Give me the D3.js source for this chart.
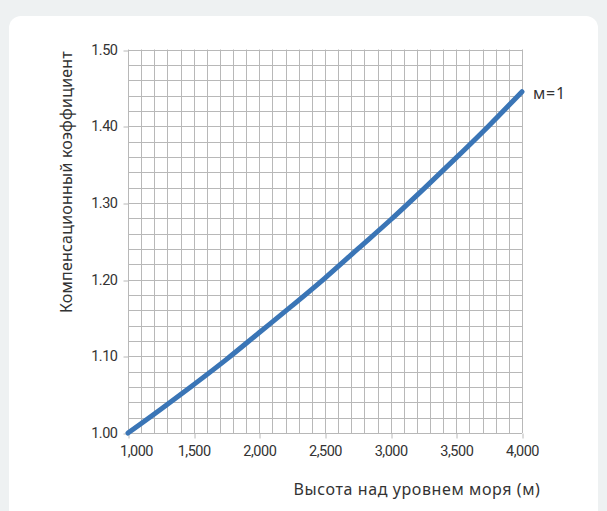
<!DOCTYPE html>
<html><head><meta charset="utf-8">
<script src="https://cdn.jsdelivr.net/npm/d3@7"></script>
<style>
html,body{margin:0;padding:0;background:#eef1f2;}
svg{display:block;}
</style></head>
<body>
<svg id="c" width="607" height="511"></svg>
<script>
const altitudes = [1000,1250,1500,1750,2000,2250,2500,2750,3000,3250,3500,3750,4000];
const factors = [1.000,1.031,1.063,1.096,1.131,1.166,1.202,1.240,1.278,1.318,1.359,1.401,1.445];
const xTicks = [1000,1500,2000,2500,3000,3500,4000];
const xTickLabels = ["1,000","1,500","2,000","2,500","3,000","3,500","4,000"];
const yTicks = [1.00,1.10,1.20,1.30,1.40,1.50];
const yTickLabels = ["1.00","1.10","1.20","1.30","1.40","1.50"];
const seriesLabel = "м=1";
const xTitle = "Высота над уровнем моря (м)";
const yTitle = "Компенсационный коэффициент";

const svg = d3.select("#c");
svg.append("rect").attr("x",9).attr("y",16).attr("width",589).attr("height",520)
  .attr("rx",12).attr("fill","#fff");

const x = d3.scaleLinear().domain([1000,4000]).range([128,522]);
const y = d3.scaleLinear().domain([1.0,1.5]).range([433,49.5]);

const tickFont = "Roboto,'Noto Sans',sans-serif";
const g = svg.append("g");
const vgrid = d3.range(1000,4001,100);
const hgrid = d3.range(0,26).map(i=>1+i*0.02);
g.selectAll(".vg").data(vgrid).enter().append("line")
  .attr("x1",d=>Math.round(x(d))+0.5).attr("x2",d=>Math.round(x(d))+0.5)
  .attr("y1",y(1.5)).attr("y2",y(1.0))
  .attr("stroke","#b8b8b8").attr("stroke-width",1);
g.selectAll(".hg").data(hgrid).enter().append("line")
  .attr("y1",d=>Math.round(y(d))+0.5).attr("y2",d=>Math.round(y(d))+0.5)
  .attr("x1",x(1000)).attr("x2",x(4000))
  .attr("stroke","#b8b8b8").attr("stroke-width",1);

const xAxis = d3.axisBottom(x).tickValues(xTicks).tickSize(5).tickPadding(7)
  .tickFormat((d,i)=>xTickLabels[i]);
const xa = svg.append("g").attr("transform",`translate(0,${Math.round(y(1.0))+0.5})`).call(xAxis);
xa.select(".domain").remove();
xa.selectAll("line").attr("stroke","#b8b8b8").attr("transform",(d)=>`translate(${Math.round(x(d))+0.5-x(d)},0)`);
xa.selectAll("text").attr("font-family",tickFont).attr("font-size",14.5).attr("letter-spacing",-0.5)
  .attr("fill","#333").attr("dx",(d,i)=>i===0?8:0);

const yAxis = d3.axisLeft(y).tickValues(yTicks).tickSize(5).tickPadding(6)
  .tickFormat((d,i)=>yTickLabels[i]);
const ya = svg.append("g").attr("transform",`translate(${x(1000)+0.5},0)`).call(yAxis);
ya.select(".domain").remove();
ya.selectAll("line").attr("stroke","#b8b8b8").attr("transform",(d)=>`translate(0,${Math.round(y(d))+0.5-y(d)})`);
ya.selectAll("text").attr("font-family",tickFont).attr("font-size",14.5).attr("letter-spacing",-0.5)
  .attr("fill","#333");

const line = d3.line().x((d,i)=>x(altitudes[i])).y(d=>y(d)).curve(d3.curveMonotoneX);
svg.append("path").datum(factors).attr("d",line).attr("fill","none")
  .attr("stroke","#3a75b6").attr("stroke-width",5).attr("stroke-linecap","round");

svg.append("text").attr("x",x(4000)+11).attr("y",y(factors[factors.length-1])+7)
  .attr("font-family","'Noto Sans',sans-serif").attr("font-size",16).attr("letter-spacing",0.8)
  .attr("fill","#333").text(seriesLabel);

svg.append("text").attr("x",417).attr("y",495).attr("text-anchor","middle")
  .attr("font-family","'Noto Sans',sans-serif").attr("font-size",16).attr("letter-spacing",0.6)
  .attr("fill","#333").text(xTitle);
svg.append("text").attr("transform","translate(72,182) rotate(-90)").attr("text-anchor","middle")
  .attr("font-family","'Noto Sans',sans-serif").attr("font-size",16).attr("letter-spacing",0.2)
  .attr("fill","#333").text(yTitle);
</script>
</body></html>
